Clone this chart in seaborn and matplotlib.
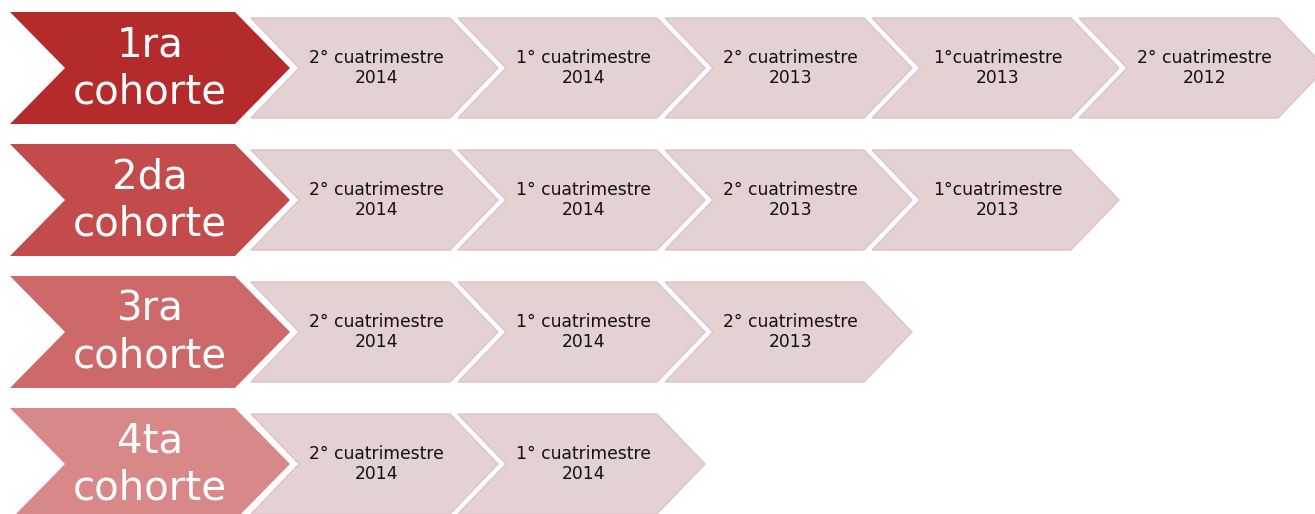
import matplotlib
matplotlib.use("Agg")
import matplotlib.pyplot as plt
from matplotlib.patches import Polygon
import seaborn as sns

# ---- data ----
cohorts = ["1ra\ncohorte", "2da\ncohorte", "3ra\ncohorte", "4ta\ncohorte"]
periods = ["2° cuatrimestre\n2014", "1° cuatrimestre\n2014", "2° cuatrimestre\n2013",
           "1°cuatrimestre\n2013", "2° cuatrimestre\n2012"]
periods_per_cohort = [5, 4, 3, 2]

# ---- style ----
cohort_colors = ["#B52B2C", "#C34B4B", "#CD6A69", "#D88888"]
step_fill = "#E4D1D1"
step_edge = "#DEC4C4"

sns.set_theme(style="white")
plt.rcParams["font.family"] = ["DejaVu Sans"]

W, H = 1315, 514
fig = plt.figure(figsize=(W / 100, H / 100), dpi=100)
ax = fig.add_axes([0, 0, 1, 1])
ax.set_xlim(0, W)
ax.set_ylim(H, 0)
ax.set_axis_off()

row_pitch = 132
row0_mid = 68
big_left, big_w, big_d, big_half = 10, 280, 55, 56
sm_left0, sm_pitch, sm_w, sm_d, sm_half = 251, 207, 247, 48, 50


def chevron(left, width, depth, mid, half):
    return [(left, mid - half), (left + width - depth, mid - half), (left + width, mid),
            (left + width - depth, mid + half), (left, mid + half), (left + depth, mid)]


for r, (label, n) in enumerate(zip(cohorts, periods_per_cohort)):
    mid = row0_mid + r * row_pitch
    ax.add_patch(Polygon(chevron(big_left, big_w, big_d, mid, big_half), closed=True,
                         facecolor=cohort_colors[r], edgecolor="none"))
    ax.text(big_left + big_w / 2, mid + 1, label, ha="center", va="center",
            color="white", fontsize=29, linespacing=1.2)
    for j in range(n):
        left = sm_left0 + j * sm_pitch
        ax.add_patch(Polygon(chevron(left, sm_w, sm_d, mid, sm_half), closed=True,
                             facecolor=step_fill, edgecolor=step_edge, linewidth=1.0))
        ax.text(left + sm_w / 2 + 2, mid, periods[j], ha="center", va="center",
                color="#111111", fontsize=12.3, linespacing=1.12)

fig.savefig("out.png", dpi=100, facecolor="white")
